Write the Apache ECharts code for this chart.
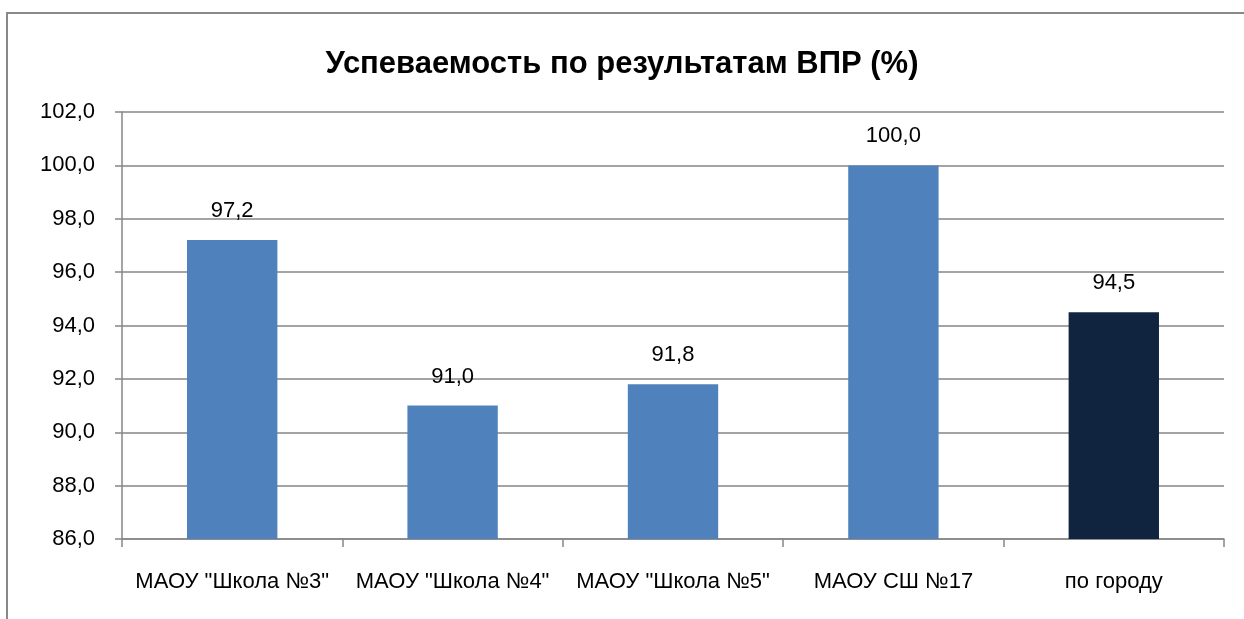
<!DOCTYPE html>
<html>
<head>
<meta charset="utf-8">
<script src="https://cdn.jsdelivr.net/npm/echarts@6/dist/echarts.min.js"></script>
<style>
  html, body { margin: 0; padding: 0; background: #fff; }
  #chart { width: 1244px; height: 619px; }
</style>
</head>
<body>
<div id="chart"></div>
<script>
var categories = ['МАОУ "Школа №3"', 'МАОУ "Школа №4"', 'МАОУ "Школа №5"', 'МАОУ СШ №17', 'по городу']
var values = [97.2, 91.0, 91.8, 100.0, 94.5]
var barColors = ['#4F81BD', '#4F81BD', '#4F81BD', '#4F81BD', '#11243F']

var chart = echarts.init(document.getElementById('chart'))
var font = 'Liberation Sans'

var option = {
  animation: false,
  graphic: [
    {
      // рамка вокруг диаграммы
      type: 'rect',
      shape: { x: 7, y: 13, width: 1400, height: 800 },
      style: { fill: 'none', stroke: '#898989', lineWidth: 2 }
    }
  ],
  title: {
    text: 'Успеваемость по результатам ВПР (%)',
    left: 'center',
    top: 44,
    textStyle: { fontFamily: font, fontSize: 31, fontWeight: 'bold', color: '#000' }
  },
  grid: {
    top: 112,
    left: 122,
    right: 20,
    bottom: 80,
    containLabel: false
  },
  xAxis: {
    type: 'category',
    data: categories,
    axisLine: { show: true, lineStyle: { color: '#868686', width: 1.5 } },
    axisTick: { show: true, length: 8, alignWithLabel: false, lineStyle: { color: '#868686', width: 1.5 } },
    axisLabel: { interval: 0, fontFamily: font, fontSize: 22, color: '#000', margin: 32 }
  },
  yAxis: {
    type: 'value',
    min: 86,
    max: 102,
    interval: 2,
    axisLine: { show: true, lineStyle: { color: '#868686', width: 1.5 } },
    axisTick: { show: true, length: 7, lineStyle: { color: '#868686', width: 1.5 } },
    splitLine: { show: true, lineStyle: { color: '#868686', width: 1.5 } },
    axisLabel: {
      fontFamily: font, fontSize: 22, color: '#000', margin: 27,
      formatter: function (v) { return v.toFixed(1).replace('.', ',') }
    }
  },
  series: [
    {
      type: 'bar',
      barWidth: '41%',
      data: values.map(function (v, i) {
        return { value: v, itemStyle: { color: barColors[i] } }
      }),
      label: {
        show: true,
        position: 'top',
        distance: 18,
        fontFamily: font,
        fontSize: 22,
        color: '#000',
        formatter: function (p) { return p.value.toFixed(1).replace('.', ',') }
      }
    }
  ]
}
chart.setOption(option)
</script>
</body>
</html>
